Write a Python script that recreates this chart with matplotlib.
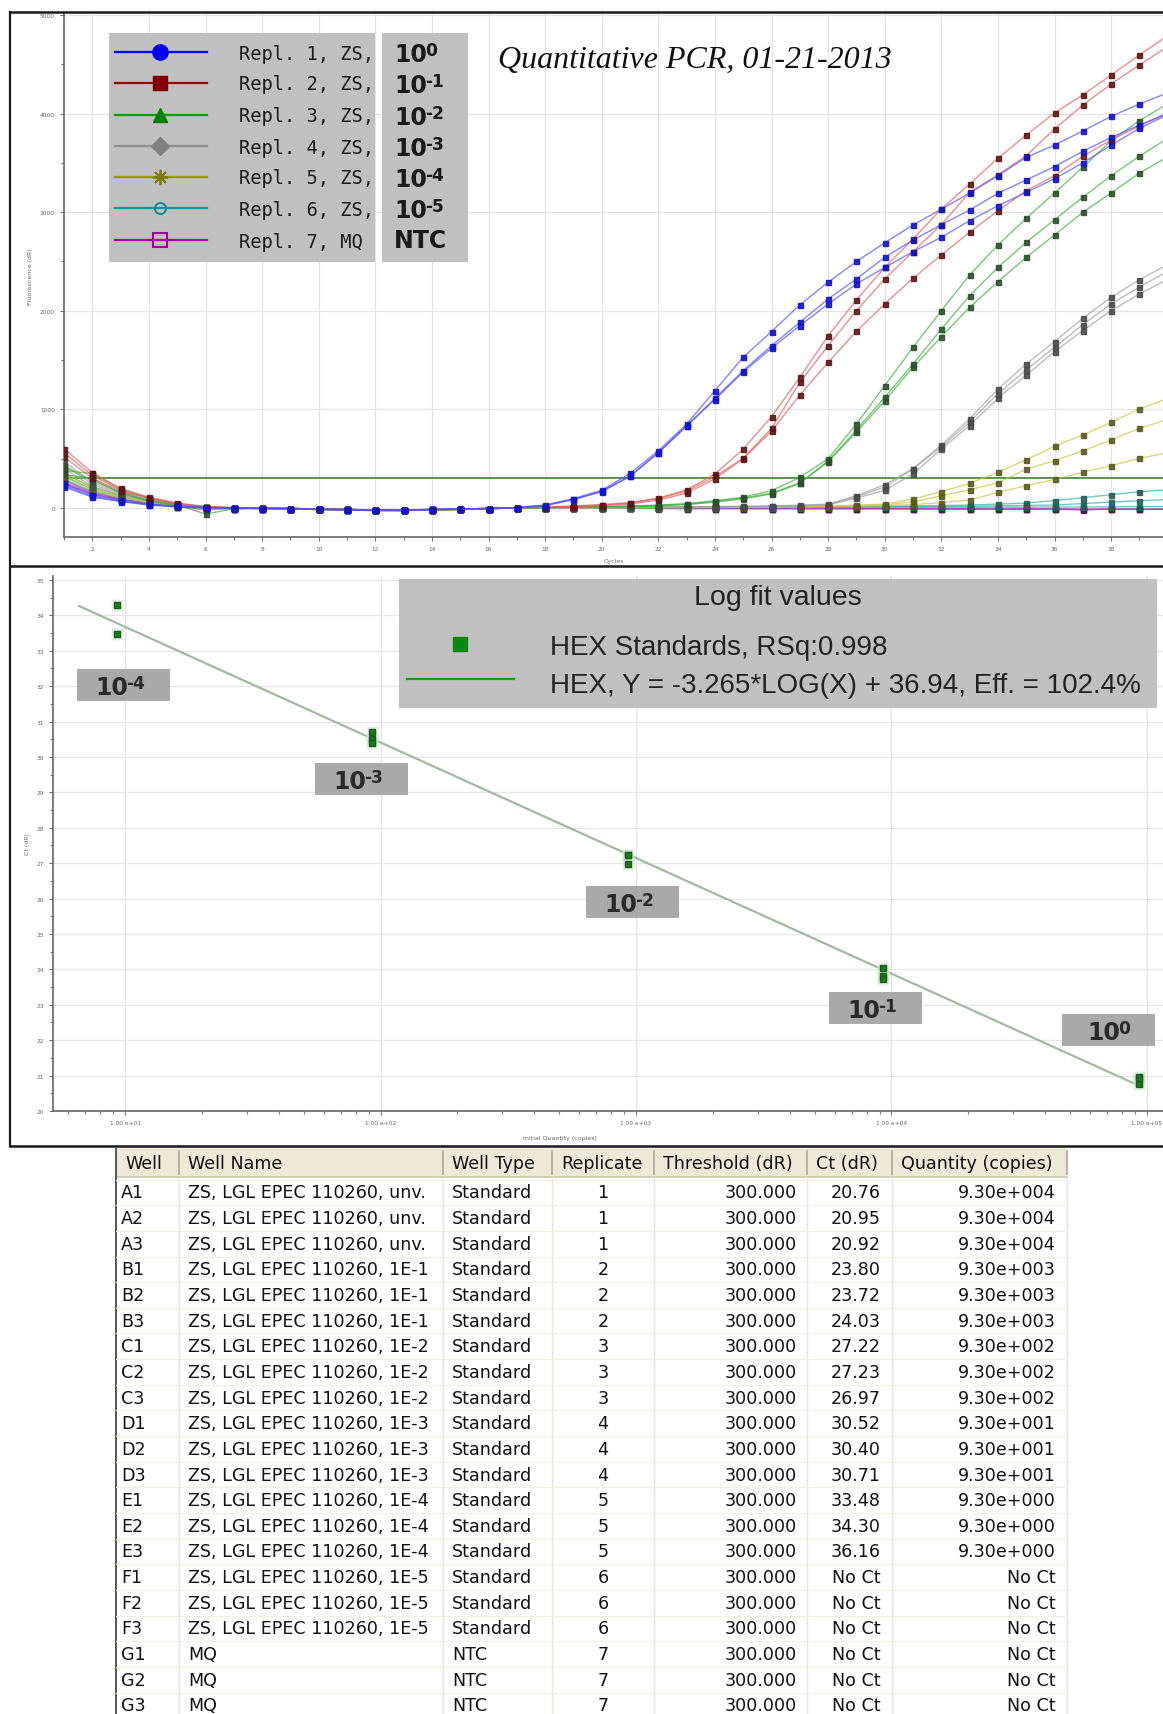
import matplotlib
matplotlib.use("Agg")
import numpy as np
import matplotlib.pyplot as plt
from matplotlib.patches import Rectangle
from matplotlib.ticker import FixedLocator, NullFormatter, FixedFormatter

# ---------------- amplification curves: dR per cycle (cycles 1..40) ----------------
cycles = list(range(1, 41))

blue_1 = [230, 120, 70, 35, 15, 5, 0, 0, -5, -10, -15, -20, -20, -15, -10, -5, 5, 30, 95, 180,
          350, 580, 850, 1190, 1530, 1790, 2060, 2290, 2500, 2690, 2870, 3030, 3195, 3370, 3556, 3681, 3823, 3972, 4097, 4210]
blue_2 = [250, 135, 80, 40, 18, 5, 0, -5, -5, -10, -20, -25, -20, -15, -10, -5, 5, 25, 85, 165,
          320, 560, 830, 1112, 1393, 1646, 1883, 2120, 2323, 2542, 2718, 2873, 3022, 3191, 3327, 3462, 3617, 3759, 3884, 4000]
blue_3 = [215, 110, 65, 30, 10, 0, -5, -5, -10, -15, -20, -25, -25, -20, -10, -5, 5, 25, 88, 170,
          325, 560, 835, 1100, 1380, 1620, 1849, 2069, 2272, 2440, 2600, 2745, 2914, 3066, 3200, 3340, 3500, 3680, 3850, 3990]

red_1 = [600, 360, 200, 110, 50, 15, 5, 0, -5, -10, -15, -20, -20, -15, -10, -5, 0, 10, 20, 35,
         55, 100, 185, 345, 598, 926, 1325, 1747, 2110, 2441, 2728, 3032, 3286, 3546, 3783, 4006, 4189, 4391, 4594, 4790]
red_2 = [520, 300, 170, 95, 40, 10, 0, -5, -5, -10, -15, -20, -25, -20, -10, -5, 0, 8, 18, 30,
         50, 95, 170, 320, 504, 808, 1274, 1646, 2001, 2323, 2600, 2873, 3201, 3377, 3573, 3844, 4087, 4300, 4493, 4680]
red_3 = [560, 330, 180, 100, 45, 12, 0, -5, -10, -15, -20, -25, -25, -20, -15, -5, 0, 5, 15, 25,
         40, 80, 150, 295, 500, 780, 1146, 1477, 1792, 2069, 2330, 2566, 2796, 3015, 3218, 3370, 3567, 3732, 3874, 4010]

green_1 = [420, 280, 160, 80, 30, -60, -10, 0, -5, -10, -15, -20, -20, -15, -10, -5, 0, 5, 10, 15,
           20, 30, 45, 74, 110, 175, 310, 500, 852, 1240, 1629, 2001, 2363, 2667, 2938, 3195, 3455, 3726, 3929, 4100]
green_2 = [380, 350, 190, 100, 40, 10, 0, -5, -5, -10, -15, -20, -25, -20, -10, -5, 0, 5, 8, 12,
           18, 25, 38, 65, 100, 150, 255, 475, 790, 1123, 1460, 1815, 2153, 2441, 2694, 2924, 3151, 3370, 3567, 3750]
green_3 = [340, 300, 150, 70, 20, -20, -5, 0, -10, -15, -20, -25, -25, -20, -15, -5, 0, 5, 8, 12,
           16, 22, 35, 60, 95, 142, 250, 470, 768, 1088, 1427, 1737, 2035, 2295, 2542, 2769, 2999, 3195, 3397, 3560]

gray_1 = [470, 260, 150, 80, 40, 15, 5, 0, -5, -10, -15, -20, -20, -15, -10, -5, 0, 0, 5, 5,
          8, 10, 12, 15, 18, 22, 28, 40, 125, 236, 400, 639, 903, 1207, 1460, 1687, 1924, 2137, 2315, 2470]
gray_2 = [440, 240, 140, 75, 35, 10, 0, 0, -5, -10, -15, -20, -25, -20, -10, -5, 0, 0, 3, 5,
          6, 8, 10, 12, 15, 18, 25, 35, 115, 212, 396, 620, 870, 1160, 1400, 1630, 1860, 2070, 2240, 2400]
gray_3 = [400, 220, 130, 70, 30, 5, 0, -5, -10, -15, -20, -25, -25, -20, -15, -5, 0, 0, 2, 4,
          5, 6, 8, 10, 12, 15, 20, 30, 100, 180, 345, 598, 835, 1113, 1349, 1586, 1799, 2001, 2170, 2320]

yellow_1 = [330, 200, 120, 60, 25, 5, 0, 0, -5, -10, -15, -20, -20, -15, -10, -5, 0, 0, 2, 3,
            4, 5, 6, 8, 10, 12, 15, 20, 28, 40, 90, 165, 250, 362, 490, 626, 740, 869, 1004, 1110]
yellow_2 = [300, 180, 110, 55, 20, 0, -5, 0, -5, -10, -15, -20, -25, -20, -10, -5, 0, 0, 2, 3,
            4, 5, 6, 7, 9, 11, 14, 18, 24, 34, 60, 125, 185, 255, 395, 480, 581, 690, 808, 900]
yellow_3 = [360, 210, 125, 65, 28, 8, 0, -5, -10, -15, -20, -25, -25, -20, -15, -5, 0, 0, 2, 3,
            4, 4, 5, 6, 7, 9, 11, 14, 18, 24, 35, 55, 80, 159, 226, 290, 362, 429, 504, 560]

cyan_1 = [320, 190, 115, 60, 25, 5, 0, 0, -5, -10, -15, -20, -20, -15, -10, -5, 0, 0, 2, 3,
          4, 5, 6, 7, 8, 10, 12, 14, 16, 18, 20, 25, 30, 40, 50, 75, 105, 135, 165, 185]
cyan_2 = [290, 170, 105, 55, 20, 0, 0, -5, -10, -15, -20, -25, -25, -20, -15, -5, 0, 0, 2, 3,
          3, 4, 5, 5, 6, 7, 8, 9, 10, 12, 14, 16, 18, 22, 26, 30, 45, 60, 74, 85]
cyan_3 = [350, 210, 125, 65, 30, 10, 0, 0, -5, -10, -15, -20, -20, -15, -10, -5, 0, 0, 0, 2,
          2, 3, 3, 4, 4, 5, 5, 6, 6, 7, 7, 8, 8, 9, 9, 10, 10, 12, 14, 15]

purple_1 = [260, 150, 90, 45, 20, 5, 0, 0, -5, -10, -15, -20, -20, -15, -10, -5, 0, 0, -2, -3,
            -4, -5, -6, -5, -6, -7, -5, -6, -8, -5, -10, -8, -12, -10, -8, -12, -20, -10, -15, -12]
purple_2 = [280, 160, 95, 50, 22, 5, 0, -5, -5, -10, -15, -20, -25, -20, -10, -5, 0, 0, -2, -3,
            -3, -4, -5, -5, -6, -5, -7, -6, -5, -8, -6, -10, -8, -12, -10, -8, -15, -10, -12, -10]
purple_3 = [240, 140, 85, 40, 15, 0, -5, 0, -10, -15, -20, -25, -25, -20, -15, -5, 0, 0, -1, -2,
            -2, -3, -4, -4, -5, -5, -6, -6, -7, -7, -8, -8, -9, -9, -10, -10, -12, -12, -13, -14]

threshold_dR = 300

legend_names = ["Repl. 1, ZS,", "Repl. 2, ZS,", "Repl. 3, ZS,", "Repl. 4, ZS,",
                "Repl. 5, ZS,", "Repl. 6, ZS,", "Repl. 7, MQ"]
legend_exponents = ["0", "-1", "-2", "-3", "-4", "-5", None]   # None -> "NTC"

# ---------------- standard curve ----------------
fit_slope = -3.265
fit_intercept = 36.94
fit_rsq = 0.998
fit_eff = 102.4
fit_span = [6.6, 9.6e4]
std_exponents = ["-4", "-3", "-2", "-1", "0"]

# ---------------- results table ----------------
table_header = ["Well", "Well Name", "Well Type", "Replicate", "Threshold (dR)", "Ct (dR)", "Quantity (copies)"]
wells = ["A1", "A2", "A3", "B1", "B2", "B3", "C1", "C2", "C3", "D1", "D2", "D3",
         "E1", "E2", "E3", "F1", "F2", "F3", "G1", "G2", "G3"]
well_names = ["ZS, LGL EPEC 110260, unv.", "ZS, LGL EPEC 110260, unv.", "ZS, LGL EPEC 110260, unv.",
              "ZS, LGL EPEC 110260, 1E-1", "ZS, LGL EPEC 110260, 1E-1", "ZS, LGL EPEC 110260, 1E-1",
              "ZS, LGL EPEC 110260, 1E-2", "ZS, LGL EPEC 110260, 1E-2", "ZS, LGL EPEC 110260, 1E-2",
              "ZS, LGL EPEC 110260, 1E-3", "ZS, LGL EPEC 110260, 1E-3", "ZS, LGL EPEC 110260, 1E-3",
              "ZS, LGL EPEC 110260, 1E-4", "ZS, LGL EPEC 110260, 1E-4", "ZS, LGL EPEC 110260, 1E-4",
              "ZS, LGL EPEC 110260, 1E-5", "ZS, LGL EPEC 110260, 1E-5", "ZS, LGL EPEC 110260, 1E-5",
              "MQ", "MQ", "MQ"]
well_types = ["Standard"] * 18 + ["NTC"] * 3
replicates = ["1", "1", "1", "2", "2", "2", "3", "3", "3", "4", "4", "4",
              "5", "5", "5", "6", "6", "6", "7", "7", "7"]
thresholds = ["300.000"] * 21
ct_values = ["20.76", "20.95", "20.92", "23.80", "23.72", "24.03", "27.22", "27.23", "26.97",
             "30.52", "30.40", "30.71", "33.48", "34.30", "36.16",
             "No Ct", "No Ct", "No Ct", "No Ct", "No Ct", "No Ct"]
quantities = ["9.30e+004", "9.30e+004", "9.30e+004", "9.30e+003", "9.30e+003", "9.30e+003",
              "9.30e+002", "9.30e+002", "9.30e+002", "9.30e+001", "9.30e+001", "9.30e+001",
              "9.30e+000", "9.30e+000", "9.30e+000",
              "No Ct", "No Ct", "No Ct", "No Ct", "No Ct", "No Ct"]

# ======================================================================
W, H = 1163, 1715
fig = plt.figure(figsize=(W / 100, H / 100), dpi=100)
fig.patch.set_facecolor("white")


def rect(x0, y0, x1, y1):
    return [x0 / W, 1 - y1 / H, (x1 - x0) / W, (y1 - y0) / H]


tick_kw = dict(labelsize=4.2, labelcolor="#666666", color="#777777")

# ---------------- amplification plot ----------------
ax1 = fig.add_axes(rect(64, 15, W, 538))
groups = [
    ([purple_1, purple_2, purple_3], "#b040b0", "#4a1a50"),
    ([cyan_1, cyan_2, cyan_3], "#30b0b0", "#2a5a5a"),
    ([yellow_1, yellow_2, yellow_3], "#c8c840", "#5a5a20"),
    ([gray_1, gray_2, gray_3], "#a0a0a0", "#4a4a4a"),
    ([green_1, green_2, green_3], "#40b040", "#2e4e2e"),
    ([red_1, red_2, red_3], "#e06060", "#5a1818"),
    ([blue_1, blue_2, blue_3], "#5050ff", "#1414c8"),
]
for reps, lc, dc in groups:
    for vals in reps:
        ax1.plot(cycles, vals, color=lc, lw=1.0, alpha=0.7, zorder=3)
        ax1.plot(cycles, vals, ls="none", marker="s", ms=3.6, mfc=dc, mec=dc, alpha=0.9, zorder=4)
ax1.axhline(threshold_dR, color="#4f8a40", lw=1.3, zorder=2)

ax1.set_xlim(1, 1 + (W - 64) / 28.3)
ax1.set_ylim(-294, 5010)
ax1.xaxis.set_major_locator(FixedLocator(list(range(2, 40, 2))))
ax1.xaxis.set_minor_locator(FixedLocator(list(range(1, 41, 2))))
ax1.yaxis.set_major_locator(FixedLocator(list(range(0, 5001, 1000))))
ax1.yaxis.set_minor_locator(FixedLocator(list(range(500, 5001, 1000))))
ax1.tick_params(which="both", direction="out", length=3, width=0.8, **tick_kw)
ax1.tick_params(which="minor", length=2)
ax1.grid(True, which="major", color="#e4e4e4", lw=0.9)
for s in ("top", "right"):
    ax1.spines[s].set_visible(False)
for s in ("left", "bottom"):
    ax1.spines[s].set_color("#666666")
    ax1.spines[s].set_linewidth(1.2)
ax1.set_xlabel("Cycles", fontsize=4.5, color="#666666")
ax1.xaxis.set_label_coords(0.5, -0.04)
ax1.set_ylabel("Fluorescence (dR)", fontsize=4.5, color="#666666")
ax1.yaxis.set_label_coords(-0.028, 0.5)

# ---------------- standard curve plot ----------------
ax2 = fig.add_axes(rect(53, 577, W, 1112))
ax2.set_xscale("log")
ax2.set_xlim(10 ** 0.718, 10 ** 5.063)
ax2.set_ylim(20, 35.11)
std_q = [float(q) for q, c, t in zip(quantities, ct_values, well_types) if c != "No Ct" and t == "Standard"]
std_ct = [float(c) for q, c, t in zip(quantities, ct_values, well_types) if c != "No Ct" and t == "Standard"]
fx = np.array(fit_span)
ax2.plot(fx, fit_slope * np.log10(fx) + fit_intercept, color="#a3b8a3", lw=1.6, zorder=3)
ax2.plot(std_q, std_ct, ls="none", marker="s", ms=9, mfc="#cfe8cf", mec="none", alpha=0.6, zorder=4)
ax2.plot(std_q, std_ct, ls="none", marker="s", ms=4.5, mfc="#1c7a1c", mec="#1c5a1c", zorder=5)

ax2.yaxis.set_major_locator(FixedLocator(list(range(20, 36))))
ax2.yaxis.set_minor_locator(FixedLocator([v + 0.5 for v in range(20, 35)]))
dec = [1e1, 1e2, 1e3, 1e4, 1e5]
ax2.xaxis.set_major_locator(FixedLocator(dec))
ax2.xaxis.set_major_formatter(FixedFormatter(["1.00 e+01", "1.00 e+02", "1.00 e+03", "1.00 e+04", "1.00 e+05"]))
ax2.xaxis.set_minor_locator(FixedLocator([m * d for d in [1, 10, 100, 1000, 10000] for m in range(2, 10)]))
ax2.xaxis.set_minor_formatter(NullFormatter())
ax2.tick_params(which="both", direction="out", length=3, width=0.8, **tick_kw)
ax2.tick_params(which="minor", length=2)
ax2.grid(True, which="major", color="#e6e6e6", lw=0.9)
for s in ("top", "right"):
    ax2.spines[s].set_visible(False)
for s in ("left", "bottom"):
    ax2.spines[s].set_color("#666666")
    ax2.spines[s].set_linewidth(1.2)
ax2.set_xlabel("Initial Quantity (copies)", fontsize=4.5, color="#666666")
ax2.xaxis.set_label_coords((560 - 53) / (W - 53), -0.045)
ax2.set_ylabel("Ct (dR)", fontsize=4.5, color="#666666")
ax2.yaxis.set_label_coords(-0.021, 0.5)

# ---------------- overlay in pixel coordinates ----------------
ov = fig.add_axes([0, 0, 1, 1])
ov.set_xlim(0, W)
ov.set_ylim(H, 0)
ov.axis("off")


def power_of_ten(x, y, exponent, size, color):
    """Bold '10' with a raised exponent, left edge at x, vertically centred on y."""
    base = ov.text(x, y, "10", fontsize=size, weight="bold", color=color,
                   family="DejaVu Sans", ha="left", va="center")
    ov.annotate(exponent, xy=(1.0, 1.04), xycoords=base, xytext=(-1.2, 0),
                textcoords="offset points", fontsize=size * 0.72, weight="bold",
                color=color, family="DejaVu Sans", ha="left", va="top")


# panel frames
ov.plot([10, 10], [13, 1147], color="#1a1a1a", lw=1.6)
for yy in (13, 567, 1147):
    ov.plot([10, W], [yy, yy], color="#1a1a1a", lw=1.8)

# title
ov.text(498, 60, "Quantitative PCR, 01-21-2013", family="Liberation Serif", style="italic",
        fontsize=23, color="#111111", va="center", ha="left")

# amplification legend
ov.add_patch(Rectangle((109, 34), 266, 229, fc="#c0c0c0", ec="none"))
ov.add_patch(Rectangle((382, 34), 86, 229, fc="#c0c0c0", ec="none"))
leg_colors = ["#0000ff", "#a00000", "#00a000", "#909090", "#9a9a00", "#009a9a", "#a000a0"]
leg_markers = [
    dict(marker="o", ms=11, mfc="#0000ff", mec="#0000ff"),
    dict(marker="s", ms=10, mfc="#800000", mec="#800000"),
    dict(marker="^", ms=10, mfc="#008000", mec="#008000"),
    dict(marker="D", ms=9, mfc="#808080", mec="#808080"),
    dict(marker=(8, 2, 0), ms=11, mfc="#7a7a00", mec="#7a7a00", mew=1.3),
    dict(marker="o", ms=8, mfc="none", mec="#008a8a", mew=1.3),
    dict(marker="s", ms=10, mfc="none", mec="#a000a0", mew=1.5),
]
row_y = [53, 84, 116, 147, 178, 209, 241]
for yy, name, ex, col, mk in zip(row_y, legend_names, legend_exponents, leg_colors, leg_markers):
    ov.plot([115, 207], [yy, yy], color=col, lw=1.6)
    ov.plot([160], [yy], ls="none", **mk)
    ov.text(239, yy + 1, name, fontsize=13.5, color="#1a1a1a", va="center", ha="left",
            family="DejaVu Sans Mono")
    if ex is None:
        ov.text(394, yy, "NTC", fontsize=17, color="#1a1a1a", va="center", ha="left",
                family="DejaVu Sans", weight="bold")
    else:
        power_of_ten(394, yy + 2, ex, 17, "#1a1a1a")

# standard curve legend
ov.add_patch(Rectangle((399, 580), 758, 129, fc="#c0c0c0", ec="none"))
ov.text(778, 598, "Log fit values", family="Liberation Sans", fontsize=20.5, color="#222222",
        ha="center", va="center")
ov.plot([460], [645], ls="none", marker="s", ms=10, mfc="#0a8a0a", mec="#0a8a0a")
ov.text(550, 648, "HEX Standards, RSq:%.3f" % fit_rsq, family="Liberation Sans", fontsize=20,
        color="#222222", ha="left", va="center")
ov.plot([407, 514], [680, 680], color="#1a9a1a", lw=1.6)
ov.text(550, 686, "HEX, Y = %.3f*LOG(X) + %.2f, Eff. = %.1f%%" % (fit_slope, fit_intercept, fit_eff),
        family="Liberation Sans", fontsize=20, color="#222222", ha="left", va="center")

# dilution tags on the standard curve
tag_boxes = [(77, 670), (315, 764), (586, 887), (829, 993), (1062, 1015)]
for (bx, by), ex in zip(tag_boxes, std_exponents):
    ov.add_patch(Rectangle((bx, by), 93, 32, fc="#a9a9a9", ec="none"))
    power_of_ten(bx + (18 if ex.startswith("-") else 25), by + 18, ex, 17, "#2a2a2a")

# results table
col_edges = [116, 179, 443, 552, 654, 807, 892, 1067]
hdr_top, hdr_bot = 1149, 1178
row_y0, row_h = 1193.4, 25.65
ov.add_patch(Rectangle((col_edges[0], hdr_top), col_edges[-1] - col_edges[0], hdr_bot - hdr_top,
                       fc="#ece9d8", ec="none"))
ov.plot([col_edges[0], col_edges[-1]], [hdr_bot, hdr_bot], color="#c9c5b3", lw=1.2)
for xe in col_edges[1:]:
    ov.plot([xe, xe], [hdr_top + 3, hdr_bot - 3], color="#aca899", lw=1.2)
    ov.plot([xe, xe], [hdr_bot, H], color="#e8e5d8", lw=1.0)
ov.plot([col_edges[0], col_edges[0]], [hdr_top, H], color="#555555", lw=1.4)
for i in range(len(wells) + 1):
    yy = row_y0 - row_h / 2 + i * row_h
    ov.plot([col_edges[0], col_edges[-1]], [yy, yy], color="#f1efe6", lw=0.8)
tfont = dict(family="DejaVu Sans", fontsize=12.6, color="#111111", va="center")
for j, h in enumerate(table_header):
    ov.text(col_edges[j] + 9, (hdr_top + hdr_bot) / 2 + 1, h, ha="left", **tfont)
for i in range(len(wells)):
    yy = row_y0 + i * row_h
    ov.text(col_edges[0] + 5, yy, wells[i], ha="left", **tfont)
    ov.text(col_edges[1] + 9, yy, well_names[i], ha="left", **tfont)
    ov.text(col_edges[2] + 9, yy, well_types[i], ha="left", **tfont)
    ov.text((col_edges[3] + col_edges[4]) / 2, yy, replicates[i], ha="center", **tfont)
    ov.text(col_edges[5] - 10, yy, thresholds[i], ha="right", **tfont)
    ov.text(col_edges[6] - 11, yy, ct_values[i], ha="right", **tfont)
    ov.text(col_edges[7] - 11, yy, quantities[i], ha="right", **tfont)

fig.savefig("out.png", dpi=100)
